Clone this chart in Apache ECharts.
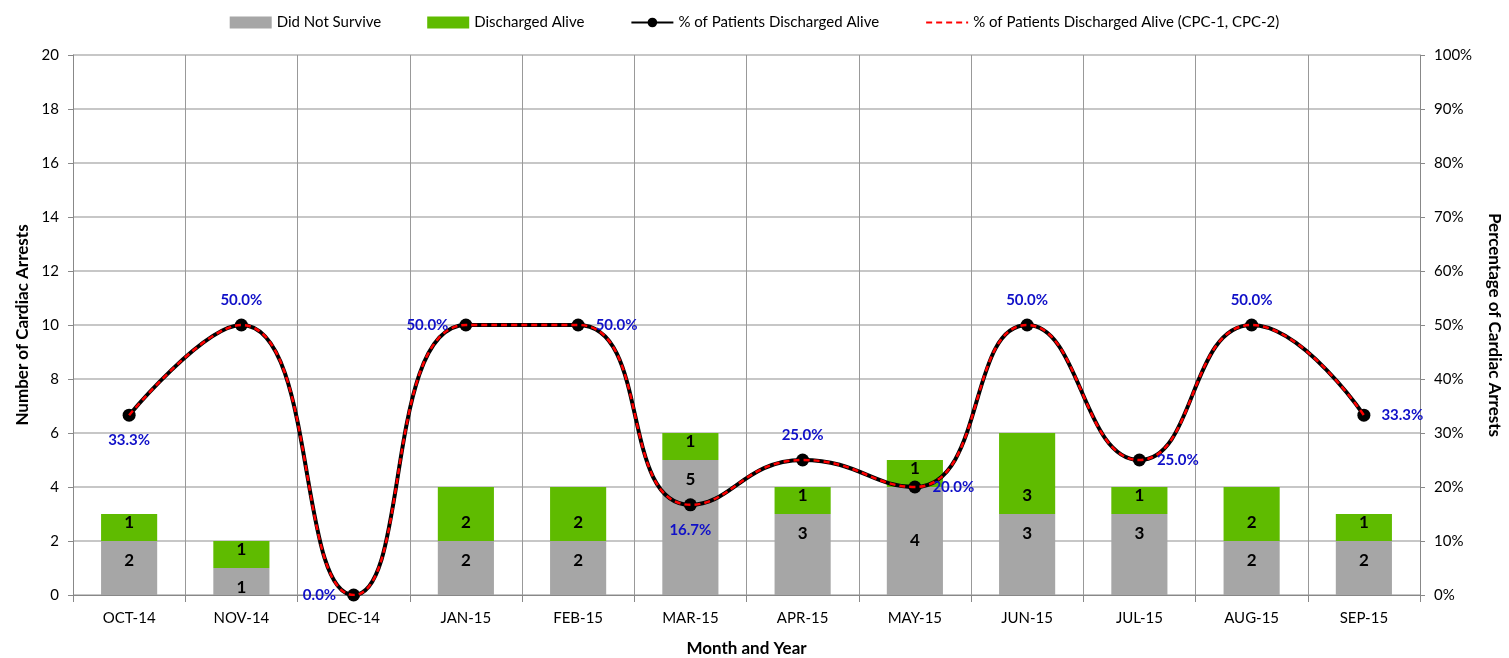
<!DOCTYPE html>
<html><head><meta charset="utf-8">
<script src="https://cdn.jsdelivr.net/npm/echarts@6/dist/echarts.min.js"></script>
<style>html,body{margin:0;padding:0;background:#fff}#c{width:1509px;height:658px}</style>
</head><body><div id="c"></div>
<script>
const categories = ['OCT-14','NOV-14','DEC-14','JAN-15','FEB-15','MAR-15','APR-15','MAY-15','JUN-15','JUL-15','AUG-15','SEP-15'];
const didNotSurvive = [2,1,0,2,2,5,3,4,3,3,2,2];
const dischargedAlive = [1,1,0,2,2,1,1,1,3,1,2,1];
const pctAlive = [33.3,50,0,50,50,16.7,25,20,50,25,50,33.3];
const pctAliveCPC = [33.3,50,0,50,50,16.7,25,20,50,25,50,33.3];
const pctLabelPos = ['bottom','top','left','left','right','bottom','top','right','top','right','top','right'];
const grayLabelPos = ['insideTop','insideTop','insideTop','insideTop','insideTop','insideTop','insideTop','inside','insideTop','insideTop','insideTop','insideTop'];
const leftTicks = [0,2,4,6,8,10,12,14,16,18,20];

const FONT = 'Lato, "Open Sans", sans-serif';
const chart = echarts.init(document.getElementById('c'));
const barLabelBase = {show:true, color:'#000', fontWeight:'bold', fontSize:17, fontFamily:FONT,
  formatter: p => p.value ? p.value : ''};
chart.setOption({
  animation:false,
  textStyle:{fontFamily:FONT},
  legend:{top:10, left:'center', itemGap:46, itemWidth:42, itemHeight:12,
    textStyle:{fontSize:15, color:'#000', fontFamily:FONT},
    data:[{name:'Did Not Survive', icon:'rect'},{name:'Discharged Alive', icon:'rect'},
          {name:'% of Patients Discharged Alive'},
          {name:'% of Patients Discharged Alive (CPC-1, CPC-2)', itemStyle:{opacity:0}}]},
  grid:{left:73, right:89, top:55, bottom:63, containLabel:false, outerBoundsMode:'none'},
  xAxis:{type:'category', data:categories,
    name:'Month and Year', nameLocation:'middle', nameGap:45,
    nameTextStyle:{fontWeight:'bold', fontSize:17, color:'#000', fontFamily:FONT},
    axisLine:{lineStyle:{color:'#888'}},
    axisTick:{show:true, length:7, lineStyle:{color:'#888'}},
    axisLabel:{fontSize:15, color:'#000', margin:16, fontFamily:FONT},
    splitLine:{show:true, lineStyle:{color:'#999', width:1}}},
  yAxis:[
    {type:'value', min:0, max:20, interval:2,
     name:'Number of Cardiac Arrests', nameLocation:'middle', nameGap:42, nameRotate:90,
     nameTextStyle:{fontWeight:'bold', fontSize:17, color:'#000', fontFamily:FONT},
     axisLine:{show:true, lineStyle:{color:'#888'}},
     axisTick:{show:true, length:5, lineStyle:{color:'#888'}},
     axisLabel:{fontSize:15, color:'#000', margin:14, fontFamily:FONT, formatter:v=>leftTicks.includes(v)?String(v):''},
     splitLine:{show:true, lineStyle:{color:'#b4b4b4', width:1.5}}},
    {type:'value', min:0, max:100, interval:10, position:'right',
     name:'Percentage of Cardiac Arrests', nameLocation:'middle', nameGap:66, nameRotate:-90,
     nameTextStyle:{fontWeight:'bold', fontSize:17, color:'#000', fontFamily:FONT},
     axisLine:{show:true, lineStyle:{color:'#888'}},
     axisTick:{show:true, length:5, lineStyle:{color:'#888'}},
     axisLabel:{fontSize:15, color:'#000', margin:14, fontFamily:FONT, formatter:'{value}%'},
     splitLine:{show:false}}
  ],
  series:[
    {name:'Did Not Survive', type:'bar', stack:'a', barWidth:'50%',
     data:didNotSurvive.map((v,i)=>({value:v, label:{position:grayLabelPos[i]}})),
     itemStyle:{color:'#a6a6a6'}, label:Object.assign({distance:11}, barLabelBase)},
    {name:'Discharged Alive', type:'bar', stack:'a', data:dischargedAlive,
     itemStyle:{color:'#5fbb00'}, label:Object.assign({position:'insideBottom', distance:10}, barLabelBase)},
    {name:'% of Patients Discharged Alive', type:'line', yAxisIndex:1, smooth:0.5,
     symbol:'circle', symbolSize:13, z:5,
     itemStyle:{color:'#000'}, lineStyle:{color:'#000', width:4},
     data: pctAlive.map((v,i)=>({value:v, label:{position:pctLabelPos[i]}})),
     label:{show:true, color:'#1010c8', fontWeight:'bold', fontSize:15, fontFamily:FONT, distance:11,
       formatter:p=>p.value.toFixed(1)+'%'}},
    {name:'% of Patients Discharged Alive (CPC-1, CPC-2)', type:'line', yAxisIndex:1, smooth:0.5,
     symbol:'none', z:6, itemStyle:{color:'#ff0000'},
     lineStyle:{color:'#ff0000', width:2.5, type:[6,4]}, data:pctAliveCPC}
  ]
});
</script></body></html>
